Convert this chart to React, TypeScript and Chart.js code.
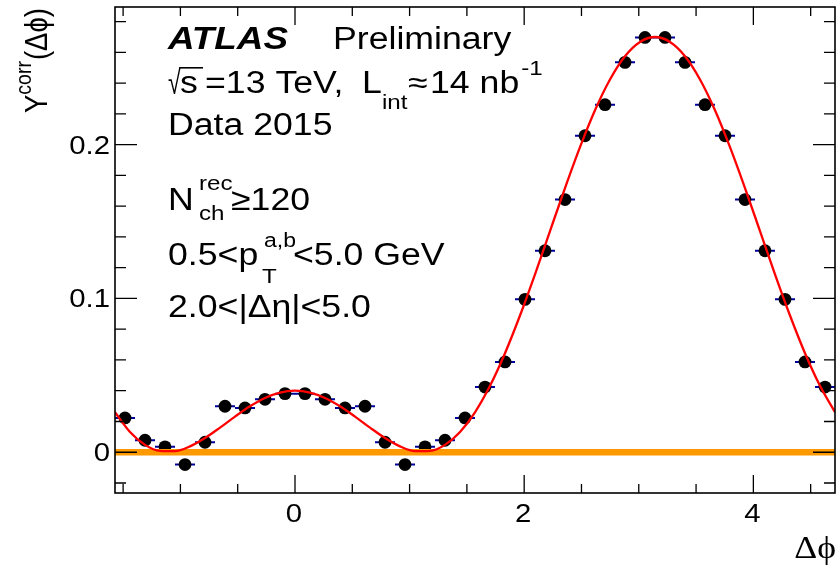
import React, { useEffect, useRef } from "react";
import { Chart, registerables } from "chart.js";

Chart.register(...registerables);

// ---- data ----
const binCenters = [
  -1.4835, -1.309, -1.1345, -0.9599, -0.7854, -0.6109, -0.4363, -0.2618, -0.0873,
  0.0873, 0.2618, 0.4363, 0.6109, 0.7854, 0.9599, 1.1345, 1.309, 1.4835,
  1.6581, 1.8326, 2.0071, 2.1817, 2.3562, 2.5307, 2.7053, 2.8798, 3.0543,
  3.2289, 3.4034, 3.5779, 3.7525, 3.927, 4.1015, 4.2761, 4.4506, 4.6251,
];
const yieldValues = [
  0.0223, 0.0078, 0.0035, -0.008, 0.0065, 0.0299, 0.0288, 0.0344, 0.0381,
  0.0381, 0.0344, 0.0288, 0.0299, 0.0065, -0.008, 0.0035, 0.0078, 0.0223,
  0.0424, 0.0587, 0.0994, 0.131, 0.1643, 0.2058, 0.226, 0.2535, 0.2697,
  0.2697, 0.2535, 0.226, 0.2058, 0.1643, 0.131, 0.0994, 0.0587, 0.0424,
];
const binHalfWidth = 0.0873;

const fitPhi = [
  -1.5708, -1.4399, -1.309, -1.1781, -1.0472, -0.9163, -0.7854, -0.6545, -0.5236,
  -0.3927, -0.2618, -0.1309, 0, 0.1309, 0.2618, 0.3927, 0.5236, 0.6545, 0.7854,
  0.9163, 1.0472, 1.1781, 1.309, 1.4399, 1.5708, 1.7017, 1.8326, 1.9635, 2.0944,
  2.2253, 2.3562, 2.4871, 2.618, 2.7489, 2.8798, 3.0107, 3.1416, 3.2725, 3.4034,
  3.5343, 3.6652, 3.7961, 3.927, 4.0579, 4.1888, 4.3197, 4.4506, 4.5815, 4.7124,
];
const fitValues = [
  0.026, 0.0132, 0.0048, 0.0009, 0.0007, 0.0038, 0.0092, 0.016, 0.0232,
  0.0299, 0.0353, 0.0388, 0.04, 0.0388, 0.0353, 0.0299, 0.0232, 0.016, 0.0092,
  0.0038, 0.0007, 0.0009, 0.0048, 0.0132, 0.026, 0.0432, 0.0644, 0.0889, 0.1157,
  0.1438, 0.1718, 0.1984, 0.2224, 0.2424, 0.2575, 0.2668, 0.27, 0.2668, 0.2575,
  0.2424, 0.2224, 0.1984, 0.1718, 0.1438, 0.1157, 0.0889, 0.0644, 0.0432, 0.026,
];

const zeroLinePhi = [-1.5708, 4.7124];
const zeroLineValues = [0, 0];

const xRange = [-1.5708, 4.7124];
const yRange = [-0.0265, 0.2895];

const xMajorTicks = [0, 2, 4];
const xTickLabels = ["0", "2", "4"];
const xMinorTicks = [-1.5, -1, -0.5, 0.5, 1, 1.5, 2.5, 3, 3.5, 4.5];
const yMajorTicks = [0, 0.1, 0.2];
const yTickLabels = ["0", "0.1", "0.2"];
const yMinorTicks = [-0.02, 0.02, 0.04, 0.06, 0.08, 0.12, 0.14, 0.16, 0.18, 0.22, 0.24, 0.26, 0.28];

// ---- styling helpers ----
const SX = 1.15;
const SANS = '"Liberation Sans", Arial, Helvetica, "DejaVu Sans", sans-serif';
const SERIF = '"Liberation Serif", "DejaVu Serif", serif';
const f = (size: number, style = "", fam = SANS) => `${style} ${size}px ${fam}`;

function measure(ctx: CanvasRenderingContext2D, s: string, font: string) {
  ctx.font = font;
  return ctx.measureText(s).width * SX;
}
function txt(
  ctx: CanvasRenderingContext2D,
  s: string,
  x: number,
  y: number,
  font: string,
  align: CanvasTextAlign = "left",
  sx = SX,
  sy = 1
) {
  ctx.save();
  ctx.translate(x, y);
  ctx.scale(sx, sy);
  ctx.font = font;
  ctx.textAlign = align;
  ctx.textBaseline = "alphabetic";
  ctx.fillStyle = "#000";
  ctx.fillText(s, 0, 0);
  ctx.restore();
}

const decorPlugin = {
  id: "decor",
  afterDatasetsDraw(chart: any) {
    const ctx: CanvasRenderingContext2D = chart.ctx;
    const { left, right, top, bottom } = chart.chartArea;
    const xs = chart.scales.x;
    const ys = chart.scales.y;
    ctx.save();
    ctx.strokeStyle = "#000";
    ctx.lineWidth = 1.6;
    ctx.strokeRect(left, top, right - left, bottom - top);

    ctx.lineWidth = 1.3;
    ctx.beginPath();
    const xt = (v: number, len: number) => {
      const p = xs.getPixelForValue(v);
      ctx.moveTo(p, bottom);
      ctx.lineTo(p, bottom - len);
      ctx.moveTo(p, top);
      ctx.lineTo(p, top + len);
    };
    const yt = (v: number, len: number) => {
      const p = ys.getPixelForValue(v);
      ctx.moveTo(left, p);
      ctx.lineTo(left + len, p);
      ctx.moveTo(right, p);
      ctx.lineTo(right - len, p);
    };
    xMajorTicks.forEach((v) => xt(v, 18));
    xMinorTicks.forEach((v) => xt(v, 9));
    yMajorTicks.forEach((v) => yt(v, 22));
    yMinorTicks.forEach((v) => yt(v, 11));
    ctx.stroke();

    // tick labels
    const tf = f(25.5);
    xMajorTicks.forEach((v, i) => txt(ctx, xTickLabels[i], xs.getPixelForValue(v) - 1, 522, tf, "center"));
    yMajorTicks.forEach((v, i) => txt(ctx, yTickLabels[i], 110, ys.getPixelForValue(v) + 9, tf, "right"));

    // x title
    txt(ctx, "Δϕ", 836, 558, f(31, "", SERIF), "right");

    // y title (rotated)
    {
      const big = f(27.5);
      const sm = f(19.5);
      ctx.font = big;
      const wY = ctx.measureText("Y").width;
      const wRest = ctx.measureText("(Δϕ)").width;
      ctx.font = sm;
      const wC = ctx.measureText("corr").width;
      const total = wY + wC + 1 + wRest;
      ctx.save();
      ctx.translate(47, 8 + total);
      ctx.scale(SX, 1);
      ctx.rotate(-Math.PI / 2);
      ctx.fillStyle = "#000";
      ctx.textBaseline = "alphabetic";
      ctx.textAlign = "left";
      ctx.font = big;
      ctx.fillText("Y", 0, 0);
      ctx.font = sm;
      ctx.fillText("corr", wY, -14);
      ctx.font = big;
      ctx.fillText("(Δϕ)", wY + wC + 1, 0);
      ctx.restore();
    }

    // annotations
    const F = f(31);
    const S = f(21);
    txt(ctx, "ATLAS", 168, 49, f(32, "italic bold"));
    txt(ctx, "Preliminary", 333, 49, F);

    // line 2
    {
      const y = 93;
      ctx.font = F;
      const m = ctx.measureText("√");
      const rsx = 0.75;
      const rsy = 1.08;
      const rx = 168 - m.actualBoundingBoxLeft * rsx;
      const ry = y + 1;
      txt(ctx, "√", rx, ry, F, "left", rsx, rsy);
      const rootTop = ry - m.actualBoundingBoxAscent * rsy;
      const rootRight = rx + m.actualBoundingBoxRight * rsx;
      ctx.lineWidth = 1.6;
      ctx.beginPath();
      ctx.moveTo(rootRight - 1.5, rootTop + 0.8);
      ctx.lineTo(203, rootTop + 0.8);
      ctx.stroke();
      txt(ctx, "s", 180, y, F);
      txt(ctx, "=13 TeV,", 205, y, F);
      txt(ctx, "L", 362, y, F);
      txt(ctx, "int", 382, y + 16, S);
      txt(ctx, "≈", 408, y, F);
      txt(ctx, "14 nb", 430, y, F);
      const endNb = 430 + measure(ctx, "14 nb", F);
      txt(ctx, "-1", endNb + 2, y - 18, S);
    }
    txt(ctx, "Data 2015", 168, 135, F);
    // line 4
    txt(ctx, "N", 168, 210, F);
    txt(ctx, "rec", 199, 190, S);
    txt(ctx, "ch", 199, 220, S);
    txt(ctx, "≥120", 231, 210, F);
    // line 5
    txt(ctx, "0.5<p", 168, 265, F);
    txt(ctx, "a,b", 264, 247, f(20));
    txt(ctx, "T", 262, 283, S);
    txt(ctx, "<5.0 GeV", 293, 265, F);
    // line 6
    txt(ctx, "2.0<|Δη|<5.0", 168, 317, F);
    ctx.restore();
  },
};

export default function App() {
  const ref = useRef<HTMLCanvasElement>(null);
  useEffect(() => {
    if (!ref.current) return;
    const errorBarData: any[] = [];
    binCenters.forEach((c, i) => {
      errorBarData.push({ x: c - binHalfWidth, y: yieldValues[i] });
      errorBarData.push({ x: c + binHalfWidth, y: yieldValues[i] });
      errorBarData.push({ x: c, y: null });
    });
    const chart = new Chart(ref.current, {
      type: "scatter",
      data: {
        datasets: [
          {
            type: "line",
            label: "fit",
            data: fitPhi.map((x, i) => ({ x, y: fitValues[i] })),
            borderColor: "#ff0000",
            borderWidth: 2.3,
            pointRadius: 0,
            showLine: true,
            cubicInterpolationMode: "monotone",
            fill: false,
            order: 0,
          } as any,
          {
            type: "line",
            label: "zero",
            data: zeroLinePhi.map((x, i) => ({ x, y: zeroLineValues[i] })),
            borderColor: "rgb(255,153,0)",
            borderWidth: 6.5,
            pointRadius: 0,
            showLine: true,
            fill: false,
            order: 1,
          } as any,
          {
            type: "scatter",
            label: "data",
            data: binCenters.map((x, i) => ({ x, y: yieldValues[i] })),
            backgroundColor: "#000",
            borderColor: "#000",
            borderWidth: 0,
            pointRadius: 6.4,
            pointHoverRadius: 6.4,
            order: 2,
          } as any,
          {
            type: "line",
            label: "xerr",
            data: errorBarData,
            borderColor: "#00009a",
            borderWidth: 2,
            pointRadius: 0,
            showLine: true,
            spanGaps: false,
            fill: false,
            order: 3,
          } as any,
        ],
      },
      options: {
        animation: false,
        responsive: false,
        events: [],
        layout: { autoPadding: false, padding: { left: 115, top: 7, right: 1, bottom: 75 } },
        plugins: { legend: { display: false }, tooltip: { enabled: false } },
        scales: {
          x: { type: "linear", min: xRange[0], max: xRange[1], display: false },
          y: { type: "linear", min: yRange[0], max: yRange[1], display: false },
        },
      },
      plugins: [decorPlugin],
    });
    return () => chart.destroy();
  }, []);
  return (
    <div style={{ position: "fixed", left: 0, top: 0, width: 836, height: 568, background: "#fff" }}>
      <canvas ref={ref} width={836} height={568} style={{ display: "block" }} />
    </div>
  );
}
